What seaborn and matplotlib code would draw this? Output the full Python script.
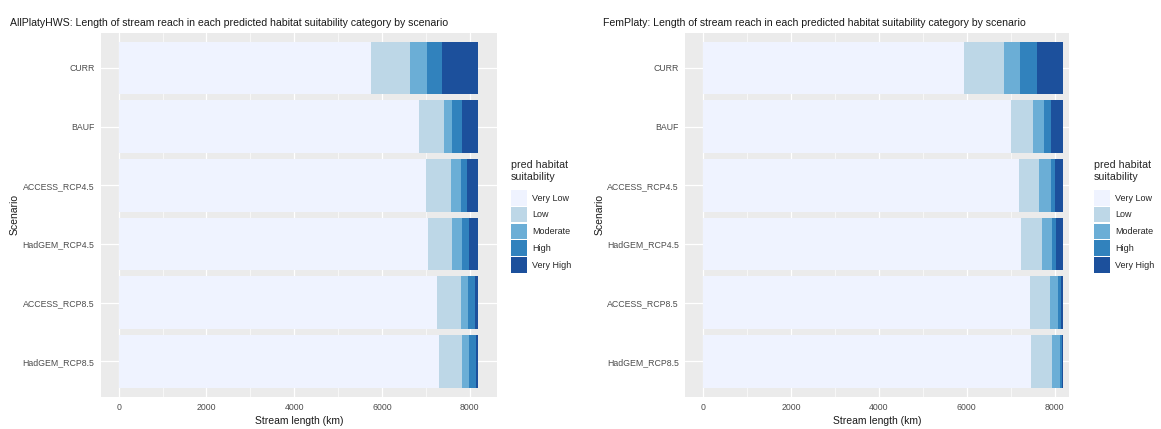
import matplotlib
matplotlib.use("Agg")
import matplotlib.pyplot as plt
from matplotlib.patches import Patch
from matplotlib.ticker import MultipleLocator
import pandas as pd
import seaborn as sns

scenarios = ["CURR", "BAUF", "ACCESS_RCP4.5", "HadGEM_RCP4.5", "ACCESS_RCP8.5", "HadGEM_RCP8.5"]
categories = ["Very Low", "Low", "Moderate", "High", "Very High"]
palette = ["#EFF3FF", "#BDD7E7", "#6BAED6", "#3182BD", "#1C509C"]

# Stream length (km) in each suitability class, one value per scenario
allplaty_very_low = [5754, 6841, 7000, 7039, 7258, 7290]
allplaty_low = [882, 562, 570, 561, 547, 538]
allplaty_moderate = [380, 182, 227, 213, 145, 159]
allplaty_high = [342, 228, 144, 167, 166, 145]
allplaty_very_high = [833, 378, 250, 211, 75, 59]

femplaty_very_low = [5937, 7007, 7190, 7243, 7440, 7463]
femplaty_low = [904, 501, 455, 464, 456, 478]
femplaty_moderate = [365, 244, 266, 242, 182, 183]
femplaty_high = [394, 166, 99, 91, 76, 45]
femplaty_very_high = [599, 281, 189, 159, 45, 30]

x_ticks = [0, 2000, 4000, 6000, 8000]

panels = [
    ("AllPlatyHWS: Length of stream reach in each predicted habitat suitability category by scenario",
     [allplaty_very_low, allplaty_low, allplaty_moderate, allplaty_high, allplaty_very_high]),
    ("FemPlaty: Length of stream reach in each predicted habitat suitability category by scenario",
     [femplaty_very_low, femplaty_low, femplaty_moderate, femplaty_high, femplaty_very_high]),
]

sns.set_theme(style="darkgrid")
plt.rcParams["font.family"] = ["Liberation Sans", "DejaVu Sans"]
plt.rcParams["axes.facecolor"] = "#EBEBEB"
plt.rcParams["grid.color"] = "white"

W, H = 1161, 429
fig = plt.figure(figsize=(W / 100, H / 100), dpi=100)

axes_px = [(100.7, 497.0), (685.3, 1069.0)]
xlims = [(-410, 8620), (-410, 8330)]
title_x = [10, 603]
legend_x = [511, 1094]
top_px, bottom_px = 32.7, 396.7

for (title, series), (x0, x1), xl, tx, lx in zip(panels, axes_px, xlims, title_x, legend_x):
    ax = fig.add_axes([x0 / W, 1 - bottom_px / H, (x1 - x0) / W, (bottom_px - top_px) / H])
    rows = []
    for cat, vals in zip(categories, series):
        for sc, v in zip(scenarios, vals):
            rows.append({"scenario": sc, "category": cat, "length": v})
    df = pd.DataFrame(rows)
    df["category"] = pd.Categorical(df["category"], categories, ordered=True)
    df = df.sort_values(["scenario", "category"])
    df["cum"] = df.groupby("scenario")["length"].cumsum()

    # stack by overlaying cumulative bars, outermost class first
    for cat, col in reversed(list(zip(categories, palette))):
        sub = df[df["category"] == cat]
        sns.barplot(data=sub, x="cum", y="scenario", order=scenarios, color=col,
                    saturation=1, width=0.9, errorbar=None, linewidth=0, ax=ax)

    ax.set_xlim(*xl)
    ax.set_ylim(5.6, -0.6)
    ax.set_xticks(x_ticks)
    ax.set_xticklabels([str(t) for t in x_ticks])
    ax.xaxis.set_minor_locator(MultipleLocator(1000))
    ax.grid(which="major", color="white", lw=0.9)
    ax.grid(which="minor", axis="x", color="white", lw=0.45)
    ax.set_axisbelow(True)
    for s in ax.spines.values():
        s.set_visible(False)
    ax.tick_params(axis="both", which="major", length=2.5, width=0.8, color="#333333",
                   labelcolor="#4D4D4D", labelsize=6.3, pad=2)
    ax.tick_params(axis="both", which="minor", length=0)
    ax.set_xlabel("Stream length (km)", fontsize=7.5, color="#1A1A1A", labelpad=3)
    ax.set_ylabel("Scenario", fontsize=7.5, color="#1A1A1A", labelpad=2)

    fig.text(tx / W, 1 - 23 / H, title, ha="left", va="center", fontsize=7.6, color="#1A1A1A")

    handles = [Patch(facecolor=c, edgecolor="none") for c in palette]
    leg = fig.legend(handles, categories, loc="upper left",
                     bbox_to_anchor=(lx / W, 1 - 160 / H), frameon=False,
                     title="pred habitat\nsuitability", alignment="left",
                     fontsize=6.5, title_fontsize=7.7, handlelength=1.8, handleheight=2.3,
                     labelspacing=0.12, handletextpad=0.55, borderpad=0, borderaxespad=0)
    leg._legend_box.sep = 6

fig.savefig("out.png", dpi=100)
